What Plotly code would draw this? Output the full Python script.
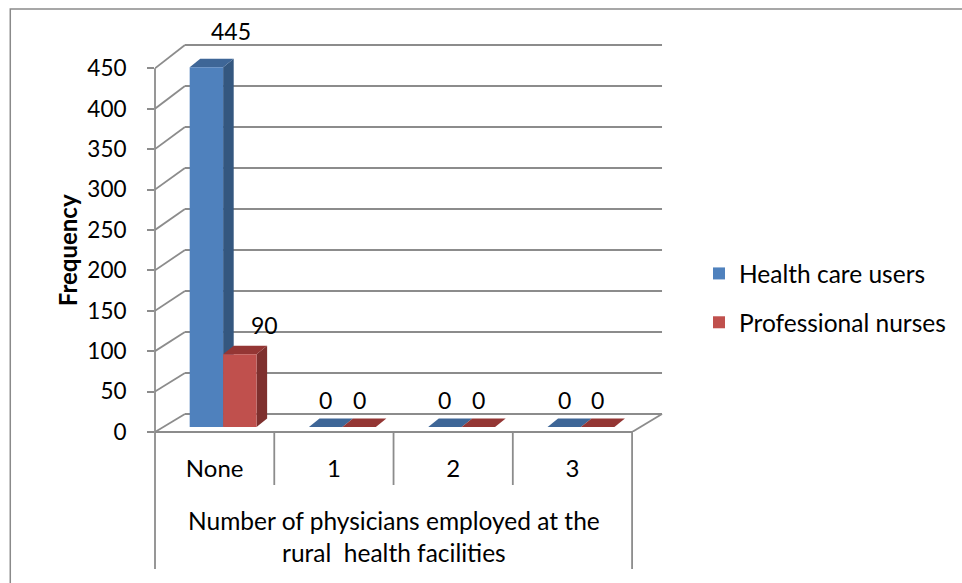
import plotly.graph_objects as go

# ---- data ----
categories = ["None", "1", "2", "3"]
health_care_users = [445, 0, 0, 0]
professional_nurses = [90, 0, 0, 0]
y_ticks = [0, 50, 100, 150, 200, 250, 300, 350, 400, 450]
series_names = ["Health care users", "Professional nurses"]
x_title = "Number of physicians employed at the<br>rural\u00a0 health facilities"
y_title = "Frequency"

# ---- layout geometry ----
W, H = 962, 583
L, R, T, B = 155, 290, 20, 151
PW, PH = W - L - R, H - T - B
PX_X = 119.5           # pixels per category
PX_Y = 0.8082          # pixels per value unit
X0 = -0.5
X1 = X0 + PW / PX_X
Y1 = PH / PX_Y
N = len(categories)

# pseudo-3D depth (in data units)
WALL_DX = 30 / PX_X                 # back wall shift to the right
WALL_C, WALL_K = 22.3, 1.0146       # back wall vertical mapping
BAR_W = 33.5 / PX_X
BAR_SHIFT = 8.5 / PX_X
BAR_BASE = 5 / PX_Y
BAR_DX = 10.6 / PX_X
BAR_DY = 8.6 / PX_Y

FONT = "Lato, 'Open Sans', sans-serif"
GRID = "#8c8c8c"

styles = [
    dict(front="#4F81BD", side="#34577F", top="#3E6697"),
    dict(front="#C0504D", side="#7E302E", top="#943634"),
]
values = [health_care_users, professional_nurses]
offsets = [BAR_SHIFT - BAR_W / 2, BAR_SHIFT + BAR_W / 2]


def paper_x(px):
    return (px - L) / PW


def paper_y(py):
    return (H - B - py) / PH


def back(v):
    return WALL_C + WALL_K * v


shapes = []
line = dict(color=GRID, width=1.8)

# back wall gridlines and left wall diagonals
for v in y_ticks:
    shapes.append(dict(type="line", layer="below", xref="x", yref="y",
                       x0=X0 + WALL_DX, x1=X0 + N + WALL_DX, y0=back(v), y1=back(v), line=line))
    shapes.append(dict(type="line", layer="below", xref="x", yref="y",
                       x0=X0, x1=X0 + WALL_DX, y0=v, y1=back(v), line=line))

# front value axis line
shapes.append(dict(type="line", layer="below", xref="paper", yref="y",
                   x0=0, x1=0, y0=0, y1=y_ticks[-1], line=line))
# floor front and right edges
shapes.append(dict(type="line", layer="below", xref="x", yref="paper",
                   x0=X0, x1=X0 + N, y0=0, y1=0, line=line))
shapes.append(dict(type="line", layer="below", xref="x", yref="y",
                   x0=X0 + N, x1=X0 + N + WALL_DX, y0=0, y1=back(0), line=line))

# category dividers below the floor
shapes.append(dict(type="line", xref="paper", yref="paper",
                   x0=0, x1=0, y0=0, y1=paper_y(569), line=line))
for k in range(1, N):
    shapes.append(dict(type="line", xref="x", yref="paper",
                       x0=X0 + k, x1=X0 + k, y0=0, y1=paper_y(485), line=line))
shapes.append(dict(type="line", xref="x", yref="paper",
                   x0=X0 + N, x1=X0 + N, y0=0, y1=paper_y(569), line=line))

# chart border
shapes.append(dict(type="rect", xref="paper", yref="paper",
                   x0=paper_x(10), x1=paper_x(W + 20), y0=paper_y(9), y1=paper_y(H + 20),
                   line=dict(color="#8a8a8a", width=1.5), fillcolor="rgba(0,0,0,0)"))

# side and top faces of each column
for i in range(N):
    for s in range(2):
        v = values[s][i]
        left = i + offsets[s] - BAR_W / 2
        right = left + BAR_W
        bot = BAR_BASE
        top = BAR_BASE + v
        side = (f"M{right},{bot} L{right},{top} L{right + BAR_DX},{top + BAR_DY} "
                f"L{right + BAR_DX},{bot + BAR_DY} Z")
        lid = (f"M{left},{top} L{right},{top} L{right + BAR_DX},{top + BAR_DY} "
               f"L{left + BAR_DX},{top + BAR_DY} Z")
        shapes.append(dict(type="path", layer="below", xref="x", yref="y", path=side,
                           fillcolor=styles[s]["side"], line=dict(width=0)))
        shapes.append(dict(type="path", layer="below", xref="x", yref="y", path=lid,
                           fillcolor=styles[s]["top"], line=dict(width=0)))

fig = go.Figure()
for s in range(2):
    fig.add_trace(go.Bar(
        x=[i + offsets[s] for i in range(N)],
        y=values[s],
        base=BAR_BASE,
        width=BAR_W,
        name=series_names[s],
        legendgroup=series_names[s],
        marker=dict(color=styles[s]["front"], line=dict(width=0)),
        hovertext=[f"{c}: {v}" for c, v in zip(categories, values[s])],
        hoverinfo="text+name",
    ))

# value labels (labels of raised columns sit a little to the right, above the column top)
annotations = []
for s in range(2):
    for i in range(N):
        v = values[s][i]
        annotations.append(dict(
            x=i + offsets[s], y=BAR_BASE + v, xref="x", yref="y",
            text=str(v), showarrow=False, yanchor="middle",
            xshift=25 if v > 0 else 0,
            yshift=27 + 0.02 * v, font=dict(size=23, color="#000"),
        ))

# axis titles
annotations.append(dict(
    x=paper_x(394), y=paper_y(536), xref="paper", yref="paper",
    text=x_title, showarrow=False, font=dict(size=24.5, color="#000"),
    xanchor="center", yanchor="middle", align="center",
))
annotations.append(dict(
    x=paper_x(67), y=paper_y(250), xref="paper", yref="paper",
    text=f"<b>{y_title}</b>", showarrow=False, textangle=-90,
    font=dict(size=24, color="#000"), xanchor="center", yanchor="middle",
))

fig.update_layout(
    width=W, height=H,
    margin=dict(l=L, r=R, t=T, b=B, pad=0),
    paper_bgcolor="white", plot_bgcolor="white",
    font=dict(family=FONT, size=22, color="#000"),
    barmode="overlay",
    showlegend=True,
    legend=dict(
        x=paper_x(699), y=paper_y(251), xanchor="left", yanchor="top",
        font=dict(size=24.5), traceorder="grouped", tracegroupgap=14,
        bgcolor="rgba(0,0,0,0)",
    ),
    shapes=shapes,
    annotations=annotations,
    xaxis=dict(
        range=[X0, X1], showgrid=False, zeroline=False, showline=False,
        tickmode="array", tickvals=list(range(N)), ticktext=categories,
        ticks="", ticklabelstandoff=20, tickfont=dict(size=24),
        fixedrange=True,
    ),
    yaxis=dict(
        range=[0, Y1], showgrid=False, zeroline=False, showline=False,
        tickmode="array", tickvals=y_ticks, ticks="outside", ticklen=7,
        tickwidth=1.8, tickcolor=GRID, ticklabelstandoff=16,
        tickfont=dict(size=22.5), fixedrange=True,
    ),
)

fig.write_html("out.html")
